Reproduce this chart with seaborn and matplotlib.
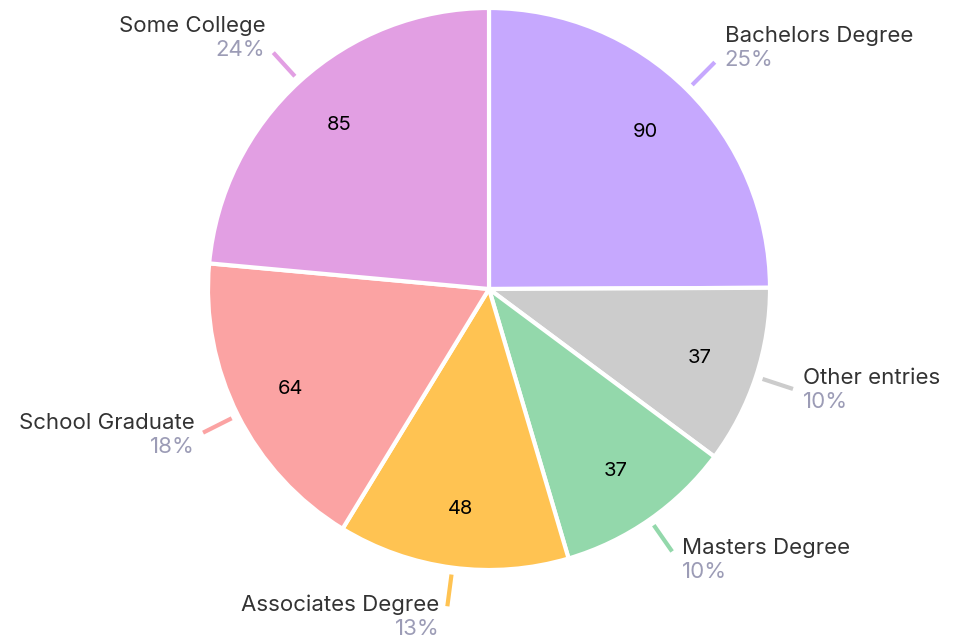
#!/usr/bin/env python3
"""Education level pie chart."""

import matplotlib
matplotlib.use("Agg")
import matplotlib.pyplot as plt
import numpy as np
import seaborn as sns

categories = ["Bachelors Degree", "Other entries", "Masters Degree",
              "Associates Degree", "School Graduate", "Some College"]
counts = [90, 37, 37, 48, 64, 85]
colors = ["#c6a8fe", "#cccccc", "#93d8ab", "#ffc352", "#fba3a3", "#e29fe3"]

sns.set_theme(style="white")
plt.rcParams["font.family"] = ["Inter", "DejaVu Sans"]

W, H = 955, 638
fig = plt.figure(figsize=(W / 100, H / 100), dpi=100)
ax = fig.add_axes([0, 0, 1, 1])

cx, cy, R = 489, H - 289, 281
ax.pie(counts, colors=colors, startangle=90, counterclock=False,
       center=(cx, cy), radius=R, labels=[str(c) for c in counts],
       labeldistance=0.79, frame=True,
       wedgeprops=dict(edgecolor="white", linewidth=3),
       textprops=dict(fontsize=14.5, color="black", ha="center", va="center"))
ax.set_xlim(0, W)
ax.set_ylim(0, H)
ax.set_aspect("equal")
ax.axis("off")

total = sum(counts)
cum = np.cumsum([0] + counts[:-1])
for name, c, start, col in zip(categories, counts, cum, colors):
    theta = np.deg2rad((start + c / 2) / total * 360)
    dx, dy = np.sin(theta), np.cos(theta)
    x0, y0 = cx + 288 * dx, cy + 288 * dy
    x1, y1 = cx + 320 * dx, cy + 320 * dy
    ax.plot([x0, x1], [y0, y1], color=col, lw=3, solid_capstyle="butt")
    pct = f"{round(c / total * 100)}%"
    if dx >= 0:
        tx, ha = x1 + 10, "left"
    else:
        tx, ha = x1 - 8, "right"
    ny = y1 + 16 + 15 * dy
    ax.text(tx, ny, name, ha=ha, va="center", fontsize=16, color="#333333")
    ax.text(tx, ny - 24, pct, ha=ha, va="center", fontsize=16, color="#9c9cb6")

fig.savefig("out.png", dpi=100)
